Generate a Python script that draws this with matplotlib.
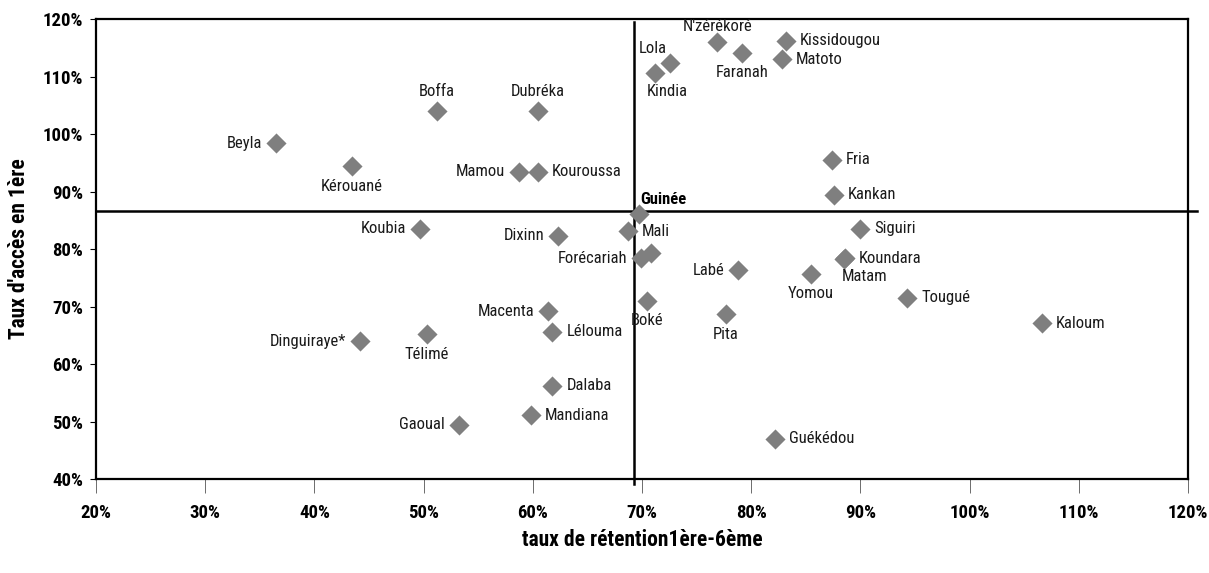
import matplotlib
matplotlib.use("Agg")
import matplotlib.pyplot as plt
from matplotlib.ticker import FuncFormatter, MultipleLocator

plt.rcParams["font.family"] = ["Roboto Condensed", "Archivo Narrow", "DejaVu Sans"]

# préfectures: taux de rétention 1ère-6ème (x) et taux d'accès en 1ère (y), en %
names = [
    "Beyla", "Kérouané", "Boffa", "Dubréka", "Mamou", "Kouroussa",
    "N'zérékoré", "Lola", "Kindia", "Faranah", "Kissidougou", "Matoto",
    "Fria", "Kankan", "Koubia", "Dixinn", "Mali", "Forécariah", "",
    "Labé", "Yomou", "Siguiri", "Koundara", "Matam", "Tougué", "Kaloum",
    "Boké", "Pita", "Macenta", "Lélouma", "Dinguiraye*", "Télimé",
    "Dalaba", "Mandiana", "Gaoual", "Guékédou",
]
retention = [
    36.5, 43.4, 51.2, 60.5, 58.7, 60.5,
    76.9, 72.6, 71.2, 79.2, 83.2, 82.8,
    87.4, 87.6, 49.7, 62.3, 68.7, 69.9, 70.8,
    78.8, 85.5, 90.0, 88.6, 88.5, 94.3, 106.6,
    70.5, 77.7, 61.4, 61.8, 44.2, 50.3,
    61.8, 59.8, 53.2, 82.2,
]
acces = [
    98.4, 94.4, 104.0, 104.0, 93.4, 93.4,
    116.0, 112.3, 110.6, 114.1, 116.2, 113.0,
    95.5, 89.4, 83.5, 82.3, 83.1, 78.4, 79.3,
    76.3, 75.7, 83.5, 78.4, 78.3, 71.5, 67.1,
    71.0, 68.7, 69.2, 65.6, 64.0, 65.2,
    56.2, 51.1, 49.4, 47.0,
]
guinee_x = 69.7
guinee_y = 86.1
ref_x = 69.3
ref_y = 86.6

# label side for each point: r=right, l=left, t=top, b=bottom
sides = [
    "l", "b", "t", "t", "l", "r",
    "tn", "tl", "bk", "b", "r", "r",
    "r", "r", "l", "l", "r", "l", "r",
    "l", "b", "r", "r", "br", "r", "r",
    "b", "b", "l", "r", "l", "b",
    "r", "r", "l", "r",
]
offsets = {
    "r": ((10, 0), "left", "center"),
    "l": ((-10, 0), "right", "center"),
    "t": ((0, 9), "center", "bottom"),
    "tn": ((0, 6), "center", "bottom"),
    "b": ((0, -9), "center", "top"),
    "tl": ((-13, 5), "center", "bottom"),
    "bk": ((9, -8), "center", "top"),
    "br": ((15, -7), "center", "top"),
}

fig = plt.figure(figsize=(12.09, 5.73), dpi=100)
ax = fig.add_axes([0.0794, 0.164, 0.9032, 0.8028])

grey = "#7f7f7f"
ax.scatter(retention, acces, marker="D", s=105, color=grey, zorder=3, linewidths=0)
ax.scatter([guinee_x], [guinee_y], marker="D", s=105, color=grey, zorder=3, linewidths=0)

for name, x, y, side in zip(names, retention, acces, sides):
    if not name:
        continue
    (dx, dy), ha, va = offsets[side]
    ax.annotate(name, (x, y), xytext=(dx, dy), textcoords="offset points",
                ha=ha, va=va, fontsize=12, color="#1a1a1a")
ax.annotate("Guinée", (guinee_x, guinee_y), xytext=(1, 5), textcoords="offset points",
            ha="left", va="bottom", fontsize=12, fontweight="bold")

# moyennes nationales
ax.plot([ref_x, ref_x], [39.2, 119.5], color="black", lw=1.8, zorder=2, clip_on=False)
ax.plot([20, 120.8], [ref_y, ref_y], color="black", lw=1.8, zorder=2, clip_on=False)

ax.set_xlim(20, 120)
ax.set_ylim(40, 120)
ax.xaxis.set_major_locator(MultipleLocator(10))
ax.yaxis.set_major_locator(MultipleLocator(10))
pct = FuncFormatter(lambda v, _: f"{v:.0f}%")
ax.xaxis.set_major_formatter(pct)
ax.yaxis.set_major_formatter(pct)

for s in ax.spines.values():
    s.set_linewidth(1.6)
ax.tick_params(axis="x", direction="out", length=10, width=0.6, color="#555555", pad=8)
ax.tick_params(axis="y", direction="out", length=4, width=0.8, pad=5)
for lab in ax.get_xticklabels() + ax.get_yticklabels():
    lab.set_fontweight("bold")
    lab.set_fontsize(13.5)

ax.set_xlabel("taux de rétention1ère-6ème", fontsize=15.5, fontweight="bold", labelpad=5)
ax.set_ylabel("Taux d'accès en 1ère", fontsize=15.5, fontweight="bold", labelpad=9)

fig.savefig("out.png", dpi=100, facecolor="white")
